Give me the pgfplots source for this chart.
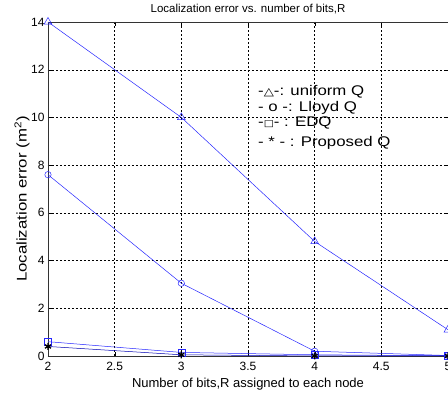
\documentclass[border=0pt]{standalone}
\usepackage{pgfplots}
\pgfplotsset{compat=1.18}
\usepackage{fontspec}
\setmainfont{Liberation Sans}
\newfontfamily\widefont[FakeStretch=1.2]{Liberation Sans}
\newfontfamily\dejavu[FakeStretch=1.2]{DejaVu Sans}
\begin{document}
\begin{tikzpicture}
\begin{axis}[
  at={(0pt,0pt)}, anchor=south west,
  scale only axis, width=400pt, height=334pt,
  xmin=2, xmax=5, ymin=0, ymax=14,
  xtick={2,2.5,...,5}, ytick={0,2,...,14},
  /pgf/number format/assume math mode=true,
  ticklabel style={font=\fontsize{12}{13}\selectfont},
  xticklabel style={/pgf/number format/fixed, yshift=-3pt},
  grid=major,
  grid style={black, dash pattern=on 2pt off 2pt, line width=0.4pt},
  axis line style={black!80, line width=0.6pt},
  tick style={black},
  tick align=inside,
  clip=false,
  xlabel={Number of bits,R assigned to each node},
  ylabel={\widefont Localization error (m\textsuperscript{2})},
  xlabel style={font=\fontsize{13}{14}\selectfont, at={(axis description cs:0.5,-0.084)}, anchor=center},
  ylabel style={font=\fontsize{14}{15}\selectfont, at={(axis description cs:-0.065,0.47)}, anchor=center},
  every axis plot/.append style={line width=0.5pt},
]
\addplot[blue!85!white, mark=triangle, mark size=4.5pt, mark options={solid}] coordinates {(2,14) (3,10) (4,4.8) (5,1.1)};
\addplot[blue!85!white, mark=o, mark size=3.2pt] coordinates {(2,7.6) (3,3.05) (4,0.2) (5,0.02)};
\addplot[blue!85!white, mark=square, mark size=3.5pt] coordinates {(2,0.6) (3,0.15) (4,0.05) (5,0.01)};
\addplot[blue!70!black, mark=asterisk, mark size=3.5pt, mark options={black, line width=1.3pt}] coordinates {(2,0.4) (3,0.05) (4,0.0) (5,0.0)};
\node[anchor=west, font=\fontsize{14}{15}\widefont, inner sep=0pt] at (axis cs:3.575,11.07) {-{\dejavu\fontsize{11}{12}\selectfont △}-: uniform Q};
\node[anchor=west, font=\fontsize{14}{15}\widefont, inner sep=0pt] at (axis cs:3.575,10.40) {- o -: Lloyd Q};
\node[anchor=west, font=\fontsize{14}{15}\widefont, inner sep=0pt] at (axis cs:3.575,9.77) {-{\dejavu\fontsize{9}{10}\selectfont □}- : EDQ};
\node[anchor=west, font=\fontsize{14}{15}\widefont, inner sep=0pt] at (axis cs:3.575,8.93) {- * - : Proposed Q};
\end{axis}
\node[font=\fontsize{11.5}{13}\selectfont, anchor=center, inner sep=0pt] at (200pt,347pt) {Localization error vs. number of bits,R};
\pgfresetboundingbox
\path[use as bounding box] (-48pt,-40pt) rectangle (400pt,356pt);
\end{tikzpicture}
\end{document}
